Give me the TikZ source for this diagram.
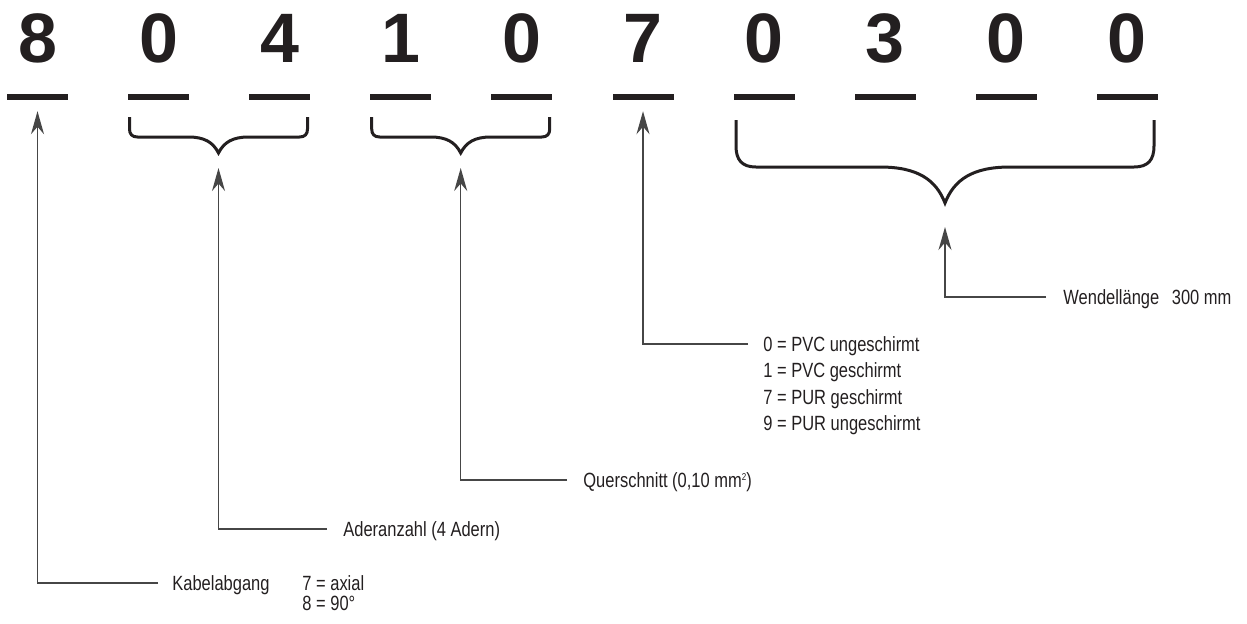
\documentclass[tikz,border=0pt]{standalone}
\usepackage{fontspec}
\usepackage{tikz}
\usetikzlibrary{arrows.meta,positioning}
\setmainfont{Liberation Sans}
\newfontfamily\condsf[FakeStretch=0.8]{Liberation Sans}
\definecolor{ink}{RGB}{35,31,32}
\definecolor{lc}{RGB}{70,70,70}
\tikzset{digit/.style={font=\fontsize{35}{35}\selectfont\bfseries,text=ink,inner sep=0pt},
 slot/.style={fill=ink,minimum width=30.5pt,minimum height=2.8pt,inner sep=0pt},
 brace/.style={draw=ink,line width=1.5pt},
 arr/.style={-{Stealth[length=11.5pt,width=6.5pt]},draw=lc,line width=.75pt},
 lbl/.style={font=\condsf\fontsize{10.3}{12}\selectfont,text=ink,inner sep=0pt,
  anchor=west,text height=7.4pt,text depth=0pt}}
\begin{document}
\begin{tikzpicture}[x=.5pt,y=-.5pt]
\useasboundingbox (0,0) rectangle (1247,623);
% code digits and their slots
\foreach \v [count=\n] in {8,0,4,1,0,7,0,3,0,0} {
 \node[digit] (d\n) at ({37.5+121.1*(\n-1)},38) {\v};
 \node[slot] (u\n) at ({37.5+121.1*(\n-1)},97) {};
}
% brace tips
\coordinate (b1) at (218.5,153);\coordinate (b2) at (460.7,153);
\coordinate (b3) at (945,203);
\foreach \c/\t in {218.5/b1,460.7/b2}
 \draw[brace] ({\c-89},117) -- ({\c-89},129) .. controls ({\c-89},134) and ({\c-86.5},137) .. ({\c-81},137)
  -- ({\c-30},137) .. controls ({\c-14.5},137) and ({\c-5.5},142) .. (\t)
  .. controls ({\c+5.5},142) and ({\c+14.5},137) .. ({\c+30},137)
  -- ({\c+81},137) .. controls ({\c+86.5},137) and ({\c+89},134) .. ({\c+89},129) -- ({\c+89},117);
\draw[brace] (736,120) -- (736,146) .. controls (736,160) and (742,167) .. (756,167) -- (880,167)
 .. controls (918,167) and (936,180) .. (b3) .. controls (954,180) and (972,167) .. (1010,167)
 -- (1134,167) .. controls (1148,167) and (1154,160) .. (1154,146) -- (1154,120);
% labels
\node[lbl] (wen) at (1063,297) {Wendellänge\hspace{4pt} 300 mm};
\node[lbl] (mat0) at (763,344) {0 = PVC ungeschirmt};
\node[lbl] (mat1) at (763,370.5) {1 = PVC geschirmt};
\node[lbl] (mat7) at (763,397) {7 = PUR geschirmt};
\node[lbl] (mat9) at (763,423.5) {9 = PUR ungeschirmt};
\node[lbl] (que) at (583,480) {Querschnitt (0,10 mm\raisebox{3.6pt}{\fontsize{5}{5}\selectfont 2})};
\node[lbl] (ade) at (343,529) {Aderanzahl (4 Adern)};
\node[lbl] (kab) at (172,583) {Kabelabgang};
\node[lbl] (kab7) at (302,583) {7 = axial};
\node[lbl] (kab8) at (302,603) {8 = 90°};
% leader arrows
\draw[arr,shorten >=5.5pt] ([xshift=-7pt]kab.west) -| (u1.south);
\draw[arr,shorten >=7.5pt] ([xshift=-8pt]ade.west) -| (b1);
\draw[arr,shorten >=7.5pt] ([xshift=-8pt]que.west) -| (b2);
\draw[arr,shorten >=5.5pt] ([xshift=-7.5pt]mat0.west) -| (u6.south);
\draw[arr,shorten >=12pt] ([xshift=-8.5pt]wen.west) -| (b3);
\end{tikzpicture}
\end{document}
